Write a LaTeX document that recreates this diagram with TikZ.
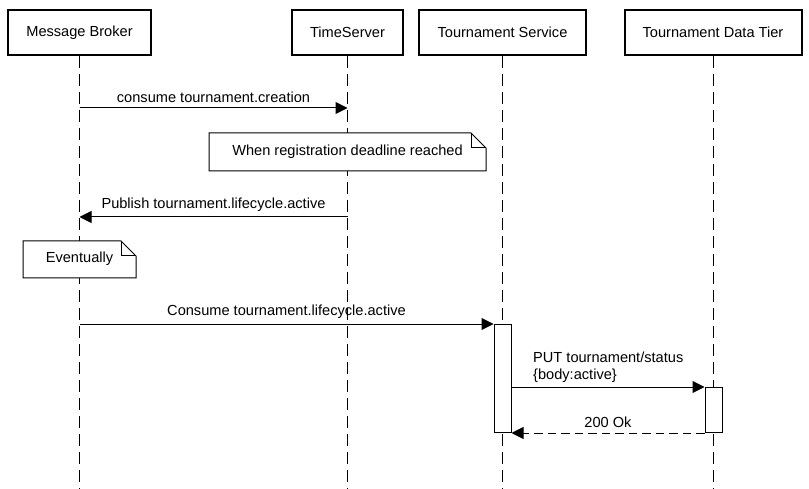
\documentclass[tikz,border=0pt]{standalone}
\usepackage{fontspec}
\setmainfont{Liberation Sans}
\usetikzlibrary{arrows.meta,calc}
\begin{document}
\begin{tikzpicture}[x=1pt,y=-1pt,
  font=\fontsize{14.6}{17}\selectfont,
  actor/.style={draw=black,line width=2pt,fill=white,minimum height=45pt,inner sep=0pt},
  lifeline/.style={draw=black,line width=1pt,dash pattern=on 12pt off 6pt},
  act/.style={draw=black,line width=1pt,fill=white,minimum width=17pt,inner sep=0pt,anchor=north},
  msg/.style={draw=black,line width=1pt,-{Triangle[length=12pt,width=12pt]}},
  reply/.style={msg,dash pattern=on 8.5pt off 5pt},
  notebox/.style={draw=black,line width=1pt,fill=white},
  lbl/.style={inner sep=0pt,text=black}]
\useasboundingbox (0,0) rectangle (809,489);
\fill[white] (0,0) rectangle (809,489);
% actors
\node[actor,minimum width=143pt] (mb) at (79.5,32.5) {Message Broker};
\node[actor,minimum width=111pt] (ts) at (347.5,32.5) {TimeServer};
\node[actor,minimum width=167pt] (tsv) at (502.5,32.5) {Tournament Service};
\node[actor,minimum width=177pt] (tdt) at (713,32.5) {Tournament Data Tier};
% lifeline ends
\coordinate (mbend) at (79.5,489);
\coordinate (tsend) at (347.5,489);
\coordinate (tsvend) at (502.5,489);
\coordinate (tdtend) at (713,489);
\draw[lifeline] (mb.south) -- (mbend);
\draw[lifeline] (ts.south) -- (tsend);
\draw[lifeline] (tsv.south) -- (tsvend);
\draw[lifeline] (tdt.south) -- (tdtend);
% message 1
\coordinate (m1a) at (79.5,108);
\coordinate (m1b) at (347.5,108);
\draw[msg] (m1a) -- node[lbl,above=5pt] {consume tournament.creation} (m1b);
% note 1
\draw[notebox] (209,133) -- (471,133) -- (486,148) -- (486,171) -- (209,171) -- cycle;
\draw[line width=1pt] (471,133) -- (471,148) -- (486,148);
\node[lbl] (n1) at (347.5,152) {When registration deadline reached};
% message 2
\coordinate (m2a) at (347.5,217);
\coordinate (m2b) at (79.5,217);
\draw[msg] (m2a) -- node[lbl,above=5pt] {Publish tournament.lifecycle.active} (m2b);
% note 2
\draw[notebox] (23,241) -- (121,241) -- (136,256) -- (136,278) -- (23,278) -- cycle;
\draw[line width=1pt] (121,241) -- (121,256) -- (136,256);
\node[lbl] (n2) at (79.5,259) {Eventually};
% activations
\node[act,minimum height=108pt] (a1) at (502.5,324) {};
\node[act,minimum height=45pt] (a2) at (713.5,387) {};
% message 3
\coordinate (m3a) at (79.5,324);
\draw[msg] (m3a) -- node[lbl,above=5pt] {Consume tournament.lifecycle.active} (a1.north west);
% message 4
\draw[msg] (a1.east |- a2.north west) -- (a2.north west);
\node[lbl,anchor=west,align=left] (l4) at (533,367.5) {PUT tournament/status\\\{body:active\}};
% message 5
\draw[reply] (a2.south west) -- node[lbl,above=5pt] {200 Ok} (a1.south east);
\end{tikzpicture}
\end{document}
